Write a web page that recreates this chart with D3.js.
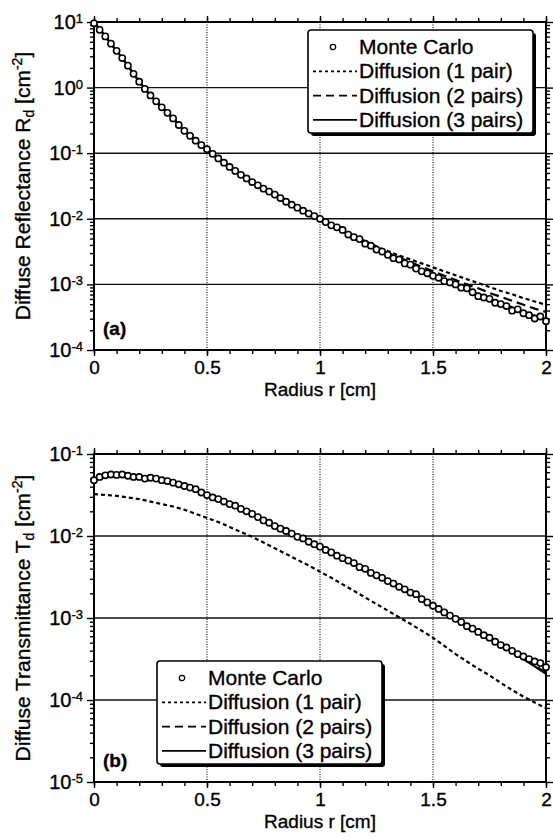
<!DOCTYPE html>
<html>
<head>
<meta charset="utf-8">
<script src="https://cdn.jsdelivr.net/npm/d3@7"></script>
<style>
  body { margin: 0; background: #fff; }
  text { font-family: "Liberation Sans", Arial, sans-serif; fill: #000; stroke: #000; stroke-width: 0.35px; }
</style>
</head>
<body>
<svg id="chart" width="553" height="838"></svg>
<script>
// radius grid of the diffusion curves [cm]
const radius = [0, 0.05, 0.1, 0.15, 0.2, 0.25, 0.3, 0.35, 0.4, 0.45, 0.5, 0.55, 0.6, 0.65, 0.7, 0.75, 0.8, 0.85, 0.9, 0.95,
  1, 1.05, 1.1, 1.15, 1.2, 1.25, 1.3, 1.35, 1.4, 1.45, 1.5, 1.55, 1.6, 1.65, 1.7, 1.75, 1.8, 1.85, 1.9, 1.95, 2];

// radius of the Monte Carlo points [cm]
const mcRadius = [0, 0.025, 0.05, 0.075, 0.1, 0.125, 0.15, 0.175, 0.2, 0.225, 0.25, 0.275, 0.3, 0.325, 0.35, 0.375,
  0.4, 0.425, 0.45, 0.475, 0.5, 0.525, 0.55, 0.575, 0.6, 0.625, 0.65, 0.675, 0.7, 0.725, 0.75, 0.775,
  0.8, 0.825, 0.85, 0.875, 0.9, 0.925, 0.95, 0.975, 1, 1.025, 1.05, 1.075, 1.1, 1.125, 1.15, 1.175,
  1.2, 1.225, 1.25, 1.275, 1.3, 1.325, 1.35, 1.375, 1.4, 1.425, 1.45, 1.475, 1.5, 1.525, 1.55, 1.575,
  1.6, 1.625, 1.65, 1.675, 1.7, 1.725, 1.75, 1.775, 1.8, 1.825, 1.85, 1.875, 1.9, 1.925, 1.95, 1.975, 2];

// (a) diffuse reflectance [cm^-2]
const reflMC = [9.55, 7.59, 6.03, 4.68, 3.63, 2.82, 2.16, 1.62, 1.23, 0.955, 0.759, 0.617, 0.501, 0.412, 0.339, 0.269,
  0.219, 0.184, 0.155, 0.133, 0.115, 0.0977, 0.0832, 0.0716, 0.0617, 0.0537, 0.0468, 0.0412, 0.0363, 0.0324, 0.0288, 0.0260,
  0.0234, 0.0207, 0.0182, 0.0164, 0.0148, 0.0133, 0.0120, 0.0110, 0.0100, 0.00891, 0.00794, 0.00741, 0.00676, 0.00575, 0.00525, 0.00490,
  0.00417, 0.00389, 0.00339, 0.00316, 0.00282, 0.00251, 0.00240, 0.00209, 0.00200, 0.00174, 0.00158, 0.00148, 0.00135, 0.00126, 0.00112, 0.00107,
  0.00100, 0.000891, 0.000871, 0.000759, 0.000661, 0.000631, 0.000603, 0.000525, 0.000501, 0.000468, 0.000398, 0.000417, 0.000363, 0.000339, 0.000302, 0.000324, 0.000275];
const refl1 = [10, 6.03, 3.63, 2.16, 1.23, 0.759, 0.501, 0.339, 0.219, 0.155, 0.115, 0.0832, 0.0617, 0.0468, 0.0363, 0.0288, 0.0234, 0.0182, 0.0148, 0.0120,
  0.0102, 0.00832, 0.00676, 0.00550, 0.00457, 0.00380, 0.00324, 0.00275, 0.00240, 0.00209, 0.00182, 0.00158, 0.00138, 0.00120, 0.00105, 0.000912, 0.000794, 0.000708, 0.000617, 0.000550, 0.000490];
const refl2 = [10, 6.03, 3.63, 2.16, 1.23, 0.759, 0.501, 0.339, 0.219, 0.155, 0.115, 0.0832, 0.0617, 0.0468, 0.0363, 0.0288, 0.0234, 0.0182, 0.0148, 0.0120,
  0.0100, 0.00813, 0.00661, 0.00537, 0.00437, 0.00363, 0.00302, 0.00257, 0.00219, 0.00186, 0.00158, 0.00135, 0.00117, 0.00100, 0.000871, 0.000741, 0.000646, 0.000562, 0.000490, 0.000427, 0.000380];
const refl3 = [10, 6.03, 3.63, 2.16, 1.23, 0.759, 0.501, 0.339, 0.219, 0.155, 0.115, 0.0832, 0.0617, 0.0468, 0.0363, 0.0288, 0.0234, 0.0182, 0.0148, 0.0120,
  0.0100, 0.00813, 0.00661, 0.00525, 0.00427, 0.00347, 0.00282, 0.00234, 0.00195, 0.00162, 0.00138, 0.00115, 0.000977, 0.000832, 0.000708, 0.000603, 0.000513, 0.000447, 0.000380, 0.000331, 0.000288];

// (b) diffuse transmittance [cm^-2]
const transMC = [0.0479, 0.0525, 0.0550, 0.0562, 0.0556, 0.0562, 0.0543, 0.0525, 0.0525, 0.0501, 0.0513, 0.0501, 0.0479, 0.0468, 0.0447, 0.0427,
  0.0407, 0.0389, 0.0372, 0.0339, 0.0316, 0.0295, 0.0282, 0.0263, 0.0245, 0.0234, 0.0214, 0.0200, 0.0186, 0.0170, 0.0155, 0.0145,
  0.0132, 0.0123, 0.0115, 0.0107, 0.00977, 0.00933, 0.00851, 0.00794, 0.00741, 0.00676, 0.00631, 0.00575, 0.00537, 0.00501, 0.00468, 0.00417,
  0.00398, 0.00355, 0.00331, 0.00309, 0.00282, 0.00263, 0.00240, 0.00224, 0.00204, 0.00195, 0.00170, 0.00155, 0.00141, 0.00129, 0.00117, 0.00107,
  0.000977, 0.000891, 0.000794, 0.000741, 0.000676, 0.000617, 0.000575, 0.000513, 0.000468, 0.000437, 0.000398, 0.000363, 0.000339, 0.000316, 0.000295, 0.000282, 0.000251];
const trans1 = [0.0324, 0.0316, 0.0309, 0.0295, 0.0282, 0.0263, 0.0245, 0.0229, 0.0209, 0.0186, 0.0166, 0.0148, 0.0129, 0.0112, 0.00977, 0.00832, 0.00708, 0.00603, 0.00513, 0.00437,
  0.00367, 0.00309, 0.00257, 0.00214, 0.00178, 0.00148, 0.00123, 0.00102, 0.000851, 0.000700, 0.000575, 0.000457, 0.000363, 0.000295, 0.000240, 0.000200, 0.000162, 0.000132, 0.000110, 0.0000933, 0.0000794];
const trans2 = [0.0498, 0.0535, 0.0542, 0.0537, 0.0520, 0.0502, 0.0474, 0.0443, 0.0408, 0.0364, 0.0321, 0.0283, 0.0249, 0.0217, 0.0187, 0.0159, 0.0136, 0.0116, 0.0100, 0.00863,
  0.00743, 0.00633, 0.00539, 0.00459, 0.00391, 0.00333, 0.00284, 0.00242, 0.00206, 0.00172, 0.00143, 0.00119, 0.000990, 0.000825, 0.000687, 0.000572, 0.000477, 0.000397, 0.000323, 0.000263, 0.000214];
const trans3 = [0.0501, 0.0537, 0.0543, 0.0537, 0.0519, 0.0501, 0.0473, 0.0442, 0.0407, 0.0363, 0.0320, 0.0282, 0.0248, 0.0216, 0.0186, 0.0158, 0.0135, 0.0116, 0.0100, 0.00861,
  0.00741, 0.00631, 0.00537, 0.00457, 0.00389, 0.00331, 0.00282, 0.00240, 0.00204, 0.00170, 0.00141, 0.00117, 0.000977, 0.000813, 0.000676, 0.000562, 0.000468, 0.000389, 0.000316, 0.000257, 0.000209];

const xTicks = [0, 0.5, 1, 1.5, 2];
const xTickLabels = ["0", "0.5", "1", "1.5", "2"];
const reflDecades = [10, 1, 0.1, 0.01, 0.001, 0.0001];
const reflExponents = ["1", "0", "-1", "-2", "-3", "-4"];
const transDecades = [0.1, 0.01, 0.001, 0.0001, 0.00001];
const transExponents = ["-1", "-2", "-3", "-4", "-5"];
const legendLabels = ["Monte Carlo", "Diffusion (1 pair)", "Diffusion (2 pairs)", "Diffusion (3 pairs)"];

const svg = d3.select("#chart");
const plotLeft = 94, plotRight = 546;
const dash1 = "4,3", dash2 = "9,5";

function drawPanel(cfg) {
  const g = svg.append("g");
  const x = d3.scaleLinear().domain([0, 2]).range([plotLeft, plotRight]);
  const y = d3.scaleLog().domain([cfg.decades[cfg.decades.length - 1], cfg.decades[0]]).range([cfg.bottom, cfg.top]);

  const xMinor = d3.range(0, 2.0001, 0.1);
  const yMinor = [];
  cfg.decades.slice(1).forEach(d => { for (let k = 2; k <= 9; k++) yMinor.push(k * d); });

  // grid
  g.selectAll(".vgrid").data(xTicks.slice(1, -1)).enter().append("line")
    .attr("x1", d => x(d)).attr("x2", d => x(d))
    .attr("y1", cfg.top).attr("y2", cfg.bottom)
    .attr("stroke", "#000").attr("stroke-width", 1.1).attr("stroke-dasharray", "1,1.5");
  g.selectAll(".hgrid").data(cfg.decades.slice(1, -1)).enter().append("line")
    .attr("x1", plotLeft).attr("x2", plotRight)
    .attr("y1", d => y(d)).attr("y2", d => y(d))
    .attr("stroke", "#111").attr("stroke-width", 1.4);

  const styleAxis = sel => {
    sel.select(".domain").remove();
    sel.selectAll(".tick line").attr("stroke", "#000").attr("stroke-width", 1.4);
  };

  // minor ticks on all four sides
  g.append("g").attr("transform", `translate(0,${cfg.bottom})`)
    .call(d3.axisBottom(x).tickValues(xMinor).tickSize(4).tickFormat("")).call(styleAxis);
  g.append("g").attr("transform", `translate(0,${cfg.top})`)
    .call(d3.axisTop(x).tickValues(xMinor).tickSize(4).tickFormat("")).call(styleAxis);
  g.append("g").attr("transform", `translate(${plotLeft},0)`)
    .call(d3.axisLeft(y).tickValues(yMinor).tickSize(4).tickFormat("")).call(styleAxis);
  g.append("g").attr("transform", `translate(${plotRight},0)`)
    .call(d3.axisRight(y).tickValues(yMinor).tickSize(4).tickFormat("")).call(styleAxis);

  // major ticks with labels
  const xAxis = g.append("g").attr("transform", `translate(0,${cfg.bottom})`)
    .call(d3.axisBottom(x).tickValues(xTicks).tickSize(6).tickPadding(5).tickFormat((d, i) => xTickLabels[i]))
    .call(styleAxis);
  xAxis.selectAll(".tick text").attr("font-size", "19px").attr("font-family", null);
  g.append("g").attr("transform", `translate(0,${cfg.top})`)
    .call(d3.axisTop(x).tickValues(xTicks).tickSize(6).tickFormat("")).call(styleAxis);

  const yAxis = g.append("g").attr("transform", `translate(${plotLeft},0)`)
    .call(d3.axisLeft(y).tickValues(cfg.decades).tickSize(7).tickPadding(4).tickFormat(() => ""))
    .call(styleAxis);
  yAxis.selectAll(".tick text").attr("font-size", "20px").attr("font-family", null)
    .each(function (d, i) {
      const t = d3.select(this).text("10");
      t.append("tspan").attr("font-size", "13px").attr("dy", "-0.45em").text(cfg.exponents[i]);
    });
  g.append("g").attr("transform", `translate(${plotRight},0)`)
    .call(d3.axisRight(y).tickValues(cfg.decades).tickSize(7).tickFormat("")).call(styleAxis);

  // frame
  g.append("rect")
    .attr("x", plotLeft).attr("y", cfg.top)
    .attr("width", plotRight - plotLeft).attr("height", cfg.bottom - cfg.top)
    .attr("fill", "none").attr("stroke", "#000").attr("stroke-width", 2);

  // curves
  const clipId = "clip" + cfg.name;
  svg.append("clipPath").attr("id", clipId).append("rect")
    .attr("x", plotLeft).attr("y", cfg.top)
    .attr("width", plotRight - plotLeft).attr("height", cfg.bottom - cfg.top);
  const line = d3.line().x((d, i) => x(radius[i])).y(d => y(d));
  const curves = [
    { values: cfg.one, dash: dash1 },
    { values: cfg.two, dash: dash2 },
    { values: cfg.three, dash: null }
  ];
  g.append("g").attr("clip-path", `url(#${clipId})`)
    .selectAll("path").data(curves).enter().append("path")
    .attr("d", d => line(d.values))
    .attr("fill", "none").attr("stroke", "#000").attr("stroke-width", 2.2)
    .attr("stroke-dasharray", d => d.dash);

  g.append("g").selectAll("circle").data(cfg.mc).enter().append("circle")
    .attr("cx", (d, i) => x(mcRadius[i])).attr("cy", d => y(d))
    .attr("r", 3.1).attr("fill", "#fff").attr("stroke", "#000").attr("stroke-width", 1.6);

  // axis titles
  g.append("text")
    .attr("x", (plotLeft + plotRight) / 2).attr("y", cfg.bottom + 46)
    .attr("text-anchor", "middle").attr("font-size", "19px")
    .text("Radius r [cm]");

  const yt = g.append("text")
    .attr("transform", `translate(30,${(cfg.top + cfg.bottom) / 2}) rotate(-90)`)
    .attr("text-anchor", "middle").attr("font-size", "21px");
  yt.append("tspan").text(cfg.yTitle + " " + cfg.symbol);
  yt.append("tspan").attr("font-size", "14px").attr("dy", 4).text("d");
  yt.append("tspan").attr("dy", -4).text(" [cm");
  yt.append("tspan").attr("font-size", "14px").attr("dy", -8).text("-2");
  yt.append("tspan").attr("dy", 8).text("]");

  // panel label
  g.append("text")
    .attr("x", plotLeft + 9).attr("y", cfg.bottom - 15)
    .attr("font-size", "19px").attr("font-weight", "bold")
    .text(cfg.label);

  // legend
  const lg = cfg.legend;
  const lgW = 225, lgH = 103;
  g.append("rect")
    .attr("x", lg.x + 3).attr("y", lg.y + 3).attr("width", lgW).attr("height", lgH)
    .attr("rx", 3).attr("fill", "#000");
  g.append("rect")
    .attr("x", lg.x).attr("y", lg.y).attr("width", lgW).attr("height", lgH)
    .attr("rx", 3).attr("fill", "#fff").attr("stroke", "#000").attr("stroke-width", 1.6);

  const rows = g.append("g").selectAll("g").data(legendLabels).enter().append("g")
    .attr("transform", (d, i) => `translate(${lg.x},${lg.y + 24 + i * 24.3})`);
  rows.append("text")
    .attr("x", 51).attr("y", 0)
    .attr("font-size", "21px")
    .text(d => d);
  const sampleDash = [null, "3,3", "8,5", null];
  rows.filter((d, i) => i > 0).append("line")
    .attr("x1", 5).attr("x2", 49).attr("y1", -7).attr("y2", -7)
    .attr("stroke", "#000").attr("stroke-width", 1.8)
    .attr("stroke-dasharray", (d, i) => sampleDash[i + 1]);
  rows.filter((d, i) => i === 0).append("circle")
    .attr("cx", 25).attr("cy", -7).attr("r", 2.7)
    .attr("fill", "#fff").attr("stroke", "#000").attr("stroke-width", 1.3);
}

drawPanel({
  name: "a", top: 22, bottom: 350,
  decades: reflDecades, exponents: reflExponents,
  mc: reflMC, one: refl1, two: refl2, three: refl3,
  yTitle: "Diffuse Reflectance", symbol: "R", label: "(a)",
  legend: { x: 308, y: 30 }
});

drawPanel({
  name: "b", top: 454, bottom: 782,
  decades: transDecades, exponents: transExponents,
  mc: transMC, one: trans1, two: trans2, three: trans3,
  yTitle: "Diffuse Transmittance", symbol: "T", label: "(b)",
  legend: { x: 157, y: 661 }
});
</script>
</body>
</html>
